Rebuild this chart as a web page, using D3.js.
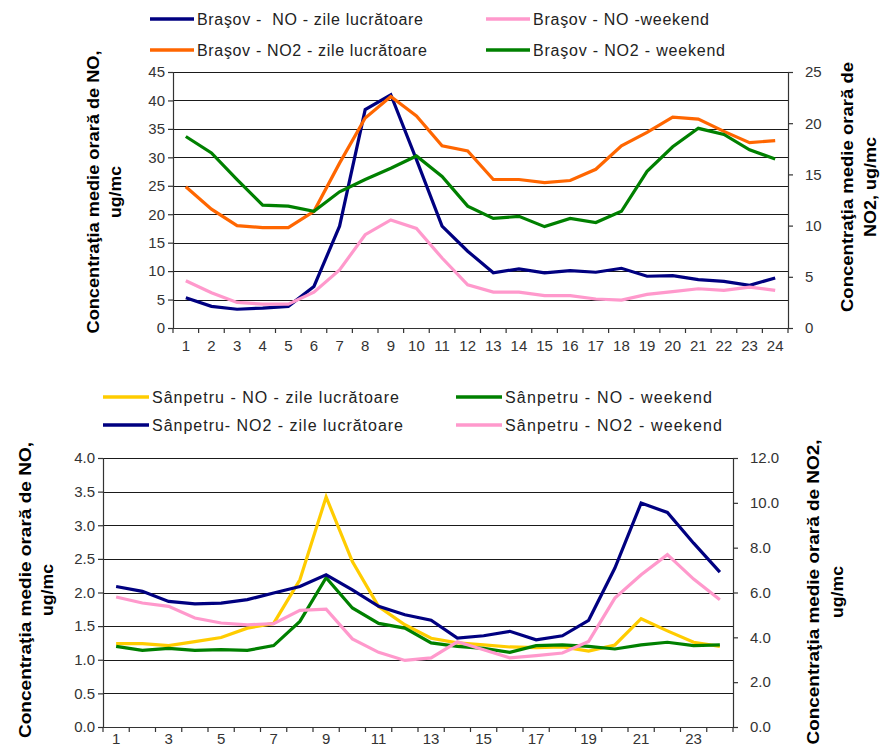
<!DOCTYPE html>
<html><head><meta charset="utf-8">
<script src="https://cdn.jsdelivr.net/npm/d3@7"></script>
<style>body{margin:0;background:#fff}svg{display:block;font-family:"Liberation Sans",Arial,sans-serif}</style>
</head><body><svg id="c" width="881" height="749"></svg>
<script>
const hours = d3.range(1,25);
// Top chart (Brasov)
const bvNOwork = [5.3,3.8,3.3,3.5,3.8,7.3,17.9,38.4,41.0,29.6,17.9,13.5,9.7,10.4,9.7,10.1,9.8,10.5,9.1,9.2,8.5,8.2,7.5,8.8];
const bvNOweek = [8.3,6.2,4.5,4.2,4.2,6.3,10.2,16.4,19.0,17.5,12.3,7.6,6.3,6.3,5.7,5.7,5.1,4.9,5.9,6.4,6.9,6.6,7.2,6.6];
const bvNO2work = [13.8,11.6,10.0,9.8,9.8,11.4,16.1,20.5,22.6,20.7,17.8,17.3,14.5,14.5,14.2,14.4,15.5,17.8,19.1,20.6,20.4,19.2,18.1,18.3];
const bvNO2week = [18.7,17.1,14.5,12.0,11.9,11.4,13.3,14.5,15.6,16.8,14.8,11.9,10.7,10.9,9.9,10.7,10.3,11.4,15.3,17.7,19.5,18.9,17.4,16.5];
// Bottom chart (Sanpetru)
const spNOwork = [1.24,1.24,1.21,1.27,1.33,1.47,1.54,2.19,3.42,2.46,1.79,1.52,1.32,1.25,1.22,1.19,1.18,1.19,1.13,1.22,1.61,1.43,1.26,1.20];
const spNOweek = [1.20,1.14,1.17,1.14,1.15,1.14,1.21,1.57,2.22,1.77,1.54,1.47,1.25,1.20,1.17,1.11,1.21,1.22,1.20,1.16,1.22,1.26,1.21,1.22];
const spNO2work = [6.27,6.05,5.60,5.49,5.53,5.68,5.98,6.27,6.79,6.12,5.38,5.01,4.76,3.97,4.07,4.27,3.89,4.07,4.76,7.09,9.99,9.57,8.20,6.91];
const spNO2week = [5.80,5.53,5.38,4.86,4.64,4.56,4.61,5.20,5.26,3.93,3.33,2.97,3.08,3.80,3.45,3.08,3.18,3.30,3.82,5.75,6.79,7.69,6.60,5.68];

const topLeftTicks = d3.range(0,46,5);
const topRightTicks = d3.range(0,26,5);
const botLeftTicks = d3.range(0,4.01,0.5);
const botRightTicks = d3.range(0,12.01,2);

const svg = d3.select("#c");
const C = {navy:"#000080", pink:"#FF99CC", orange:"#FF6600", green:"#008000", yellow:"#FFCC00"};

function chart(o){
  const g = svg.append("g");
  const x = d3.scaleBand().domain(hours).range([o.x0,o.x1]);
  const yl = d3.scaleLinear().domain(o.ld).range([o.y1,o.y0]);
  const yr = d3.scaleLinear().domain(o.rd).range([o.y1,o.y0]);
  g.selectAll(".gl").data(o.lt).join("line")
    .attr("x1",o.x0).attr("x2",o.x1).attr("y1",d=>Math.round(yl(d))+0.5).attr("y2",d=>Math.round(yl(d))+0.5)
    .attr("stroke","#1a1a1a").attr("stroke-width",1.2);
  const la = g.append("g").attr("transform",`translate(${o.x0},0)`)
    .call(d3.axisLeft(yl).tickValues(o.lt).tickFormat(o.lf).tickSize(5).tickPadding(3));
  const ra = g.append("g").attr("transform",`translate(${o.x1},0)`)
    .call(d3.axisRight(yr).tickValues(o.rt).tickFormat(o.rf).tickSize(5).tickPadding(o.rpad));
  const xa = g.append("g").attr("transform",`translate(0,${o.y1})`)
    .call(d3.axisBottom(x).tickSize(0).tickPadding(o.xpad).tickFormat(d=>o.xf(d)));
  g.selectAll(".bt").data(d3.range(0,25)).join("line")
    .attr("x1",i=>o.x0+i*x.step()).attr("x2",i=>o.x0+i*x.step())
    .attr("y1",o.y1).attr("y2",o.y1+5).attr("stroke","#333").attr("stroke-width",1.2);
  [la,ra,xa].forEach(a=>{
    a.select(".domain").attr("stroke","#333").attr("stroke-width",1.2);
    a.selectAll(".tick line").attr("stroke","#333").attr("stroke-width",1.2);
    a.selectAll("text").attr("font-size",15).attr("fill","#333").attr("font-family","Liberation Sans, Arial, sans-serif");
  });
  if (o.xbase) xa.selectAll("text").attr("dy",null).attr("y",o.xbase - o.y1);
  xa.select(".domain").attr("d",`M${o.x0},0.5H${o.x1}`);
  la.select(".domain").attr("d",`M0.5,${o.y0}V${o.y1}`);
  ra.select(".domain").attr("d",`M0.5,${o.y0}V${o.y1}`);
  const line = (sc)=>d3.line().x((d,i)=>x(hours[i])+x.bandwidth()/2).y(d=>sc(d));
  o.series.forEach(s=>{
    g.append("path").datum(s.v).attr("d",line(s.axis==="l"?yl:yr)(s.v))
      .attr("fill","none").attr("stroke",s.c).attr("stroke-width",3.2).attr("stroke-linejoin","miter");
  });
  o.titles.forEach(t=>{
    g.append("text").attr("transform",`translate(${t.x},${t.y}) rotate(-90)`)
      .attr("text-anchor","middle").attr("dy","0.36em")
      .attr("font-weight","bold").attr("font-size",16).attr("fill","#000")
      .attr("textLength",t.len).attr("lengthAdjust","spacingAndGlyphs").text(t.s);
  });
  o.legend.forEach(l=>{
    g.append("line").attr("x1",l.x1).attr("x2",l.x2).attr("y1",l.y).attr("y2",l.y)
      .attr("stroke",l.c).attr("stroke-width",3.5);
    g.append("text").attr("x",l.x2+3).attr("y",l.y).attr("dy","0.36em")
      .attr("font-size",16).attr("fill","#222").style("white-space","pre")
      .attr("textLength",l.len).attr("lengthAdjust","spacing").text(l.s);
  });
}

chart({
  x0:173,x1:788,y0:72,y1:328, ld:[0,45], rd:[0,25], lt:topLeftTicks, rt:topRightTicks,
  lf:d3.format("d"), rf:d3.format("d"), rpad:12, xpad:12, xf:d=>d,
  series:[
    {v:bvNOwork,c:C.navy,axis:"l"},{v:bvNOweek,c:C.pink,axis:"l"},
    {v:bvNO2work,c:C.orange,axis:"r"},{v:bvNO2week,c:C.green,axis:"r"}],
  titles:[
    {x:93,y:192,s:"Concentraţia medie orară de NO,",len:283},
    {x:115,y:192,s:"ug/mc",len:52},
    {x:847,y:187,s:"Concentraţia medie orară de",len:250},
    {x:870,y:187,s:"NO2, ug/mc",len:100}],
  legend:[
    {x1:150,x2:194,y:19,c:C.navy,s:"Braşov -  NO - zile lucrătoare",len:226},
    {x1:150,x2:194,y:50,c:C.orange,s:"Braşov - NO2 - zile lucrătoare",len:230},
    {x1:486,x2:530,y:19,c:C.pink,s:"Braşov - NO -weekend",len:176},
    {x1:486,x2:530,y:50,c:C.green,s:"Braşov - NO2 - weekend",len:192}]
});

chart({
  x0:103,x1:733,y0:458,y1:727, ld:[0,4], rd:[0,12], lt:botLeftTicks, rt:botRightTicks,
  lf:d3.format(".1f"), rf:d3.format(".1f"), rpad:12, xpad:13, xbase:744, xf:d=>(d%2===1?d:""),
  series:[
    {v:spNOwork,c:C.yellow,axis:"l"},{v:spNOweek,c:C.green,axis:"l"},
    {v:spNO2work,c:C.navy,axis:"r"},{v:spNO2week,c:C.pink,axis:"r"}],
  titles:[
    {x:25,y:590,s:"Concentraţia medie orară de NO,",len:296},
    {x:47,y:590,s:"ug/mc",len:52},
    {x:813,y:592,s:"Concentraţia medie orară de NO2,",len:305},
    {x:837,y:592,s:"ug/mc",len:52}],
  legend:[
    {x1:103,x2:149,y:397,c:C.yellow,s:"Sânpetru - NO - zile lucrătoare",len:247},
    {x1:103,x2:149,y:425,c:C.navy,s:"Sânpetru- NO2 - zile lucrătoare",len:251},
    {x1:456,x2:502,y:397,c:C.green,s:"Sânpetru - NO - weekend",len:207},
    {x1:456,x2:502,y:425,c:C.pink,s:"Sânpetru - NO2 - weekend",len:217}]
});
</script></body></html>
